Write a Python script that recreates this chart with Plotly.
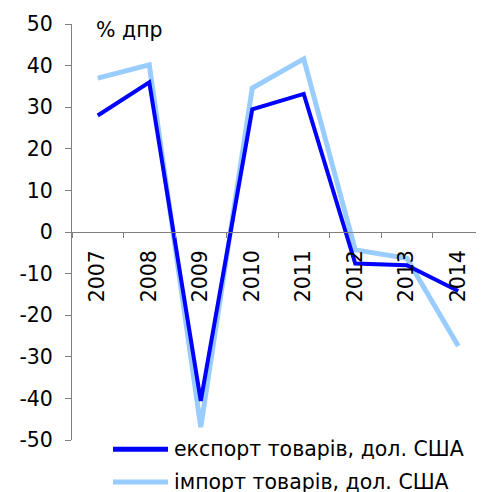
import plotly.graph_objects as go

years = ["2007", "2008", "2009", "2010", "2011", "2012", "2013", "2014"]
export_vals = [28.0, 36.0, -40.6, 29.5, 33.2, -7.6, -8.0, -14.2]
import_vals = [37.0, 40.2, -46.9, 34.6, 41.6, -4.3, -6.3, -27.4]
series_names = ["експорт товарів, дол. США", "імпорт товарів, дол. США"]
series_colors = ["#0000FF", "#99CCFF"]
y_ticks = [50, 40, 30, 20, 10, 0, -10, -20, -30, -40, -50]
y_tick_text = ["50", "40", "30", "20", "10", "0", "-10", "-20", "-30", "-40", "-50"]

FONT = "DejaVu Sans"
FS = 20.5

fig = go.Figure()
fig.add_trace(go.Scatter(x=years, y=import_vals, mode="lines",
                         line=dict(color=series_colors[1], width=5),
                         name=series_names[1], showlegend=False))
fig.add_trace(go.Scatter(x=years, y=export_vals, mode="lines",
                         line=dict(color=series_colors[0], width=4),
                         name=series_names[0], showlegend=False))

# manual legend
leg_rows = [-0.022, -0.101]
for i, (nm, col) in enumerate(zip(series_names, series_colors)):
    fig.add_shape(type="line", xref="paper", yref="paper",
                  x0=0.0995, x1=0.233, y0=leg_rows[i], y1=leg_rows[i],
                  line=dict(color=col, width=5))
    fig.add_annotation(text=nm, xref="paper", yref="paper", x=0.243, y=leg_rows[i],
                       xanchor="left", yanchor="middle", showarrow=False,
                       font=dict(family=FONT, size=FS, color="#000000"))

fig.add_annotation(text="% дпр", xref="paper", yref="paper", x=0.053, y=0.985,
                   xanchor="left", yanchor="middle", showarrow=False,
                   font=dict(family=FONT, size=FS, color="#000000"))

fig.update_layout(
    width=476, height=484,
    margin=dict(l=64, r=0, t=16, b=52),
    plot_bgcolor="white", paper_bgcolor="white",
    font=dict(family=FONT, size=FS, color="#000000"),
    xaxis=dict(type="category", range=[-0.5, 7.5], anchor="free", position=0.5,
               showline=True, linecolor="#808080", linewidth=1,
               ticks="outside", tickson="boundaries", ticklen=5, tickcolor="#808080",
               tickangle=-90, showgrid=False, zeroline=False,
               tickfont=dict(family=FONT, size=FS), ticklabelstandoff=9),
    yaxis=dict(range=[-50, 50], tickvals=y_ticks, ticktext=y_tick_text,
               showline=True, linecolor="#808080",
               linewidth=1, ticks="outside", ticklen=6, tickcolor="#808080",
               showgrid=False, zeroline=False, tickfont=dict(family=FONT, size=FS),
               ticklabelstandoff=8),
)

fig.write_html("out.html")
